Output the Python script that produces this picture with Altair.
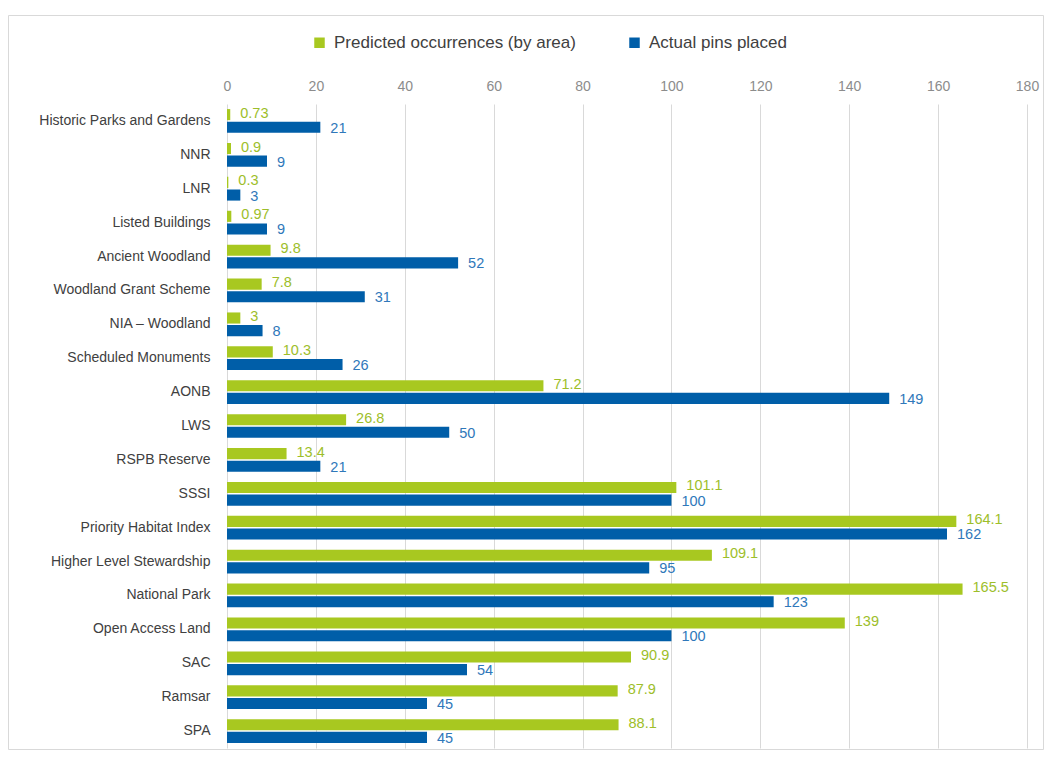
import altair as alt
import pandas as pd

categories = ["Historic Parks and Gardens", "NNR", "LNR", "Listed Buildings", "Ancient Woodland",
              "Woodland Grant Scheme", "NIA – Woodland", "Scheduled Monuments", "AONB", "LWS",
              "RSPB Reserve", "SSSI", "Priority Habitat Index", "Higher Level Stewardship",
              "National Park", "Open Access Land", "SAC", "Ramsar", "SPA"]
predicted = [0.73, 0.9, 0.3, 0.97, 9.8, 7.8, 3, 10.3, 71.2, 26.8, 13.4, 101.1, 164.1, 109.1,
             165.5, 139, 90.9, 87.9, 88.1]
predicted_labels = ["0.73", "0.9", "0.3", "0.97", "9.8", "7.8", "3", "10.3", "71.2", "26.8",
                    "13.4", "101.1", "164.1", "109.1", "165.5", "139", "90.9", "87.9", "88.1"]
actual = [21, 9, 3, 9, 52, 31, 8, 26, 149, 50, 21, 100, 162, 95, 123, 100, 54, 45, 45]
actual_labels = [str(v) for v in actual]
series = ["Predicted occurrences (by area)", "Actual pins placed"]
x_ticks = [0, 20, 40, 60, 80, 100, 120, 140, 160, 180]

rows = []
for c, p, pl, a, al in zip(categories, predicted, predicted_labels, actual, actual_labels):
    rows.append({"category": c, "series": series[0], "value": p, "label": pl})
    rows.append({"category": c, "series": series[1], "value": a, "label": al})
df = pd.DataFrame(rows)

bar_colors = ["#A8C820", "#005EA8"]
text_colors = ["#9DBE2A", "#2F78BA"]

y_enc = alt.Y("category:N", sort=categories, title=None,
              scale=alt.Scale(paddingInner=0.3, paddingOuter=0.15),
              axis=alt.Axis(ticks=False, domain=False, labelColor="#404040", labelFontSize=14,
                            labelFont="Liberation Sans", labelPadding=17, grid=False,
                            labelLimit=0))
yoff = alt.YOffset("series:N", sort=series, scale=alt.Scale(paddingInner=0.12))
x_enc = alt.X("value:Q", title=None,
              scale=alt.Scale(domain=[0, 180], nice=False),
              axis=alt.Axis(orient="top", values=x_ticks, ticks=False, domain=False,
                            labelColor="#8C8C8C", labelFontSize=14, labelFont="Liberation Sans",
                            labelPadding=11, labelFlush=False, grid=True,
                            gridColor="#D9D9D9", gridWidth=1))

base = alt.Chart(df)

bars = base.mark_bar().encode(
    y=y_enc, yOffset=yoff, x=x_enc,
    color=alt.Color("series:N", sort=series,
                    scale=alt.Scale(domain=series, range=bar_colors),
                    legend=alt.Legend(title=None, orient="none", direction="horizontal",
                                      legendX=84, legendY=-70, symbolType="square",
                                      symbolSize=110, symbolStrokeWidth=0,
                                      labelFontSize=17, labelColor="#404040",
                                      labelFont="Liberation Sans", columnPadding=50,
                                      labelOffset=6, labelLimit=0)),
)


def text_layer(idx, dy):
    return base.transform_filter(alt.datum.series == series[idx]).mark_text(
        align="left", baseline="middle", dx=10, dy=dy, fontSize=14.5,
        font="Liberation Sans", color=text_colors[idx]).encode(
        y=alt.Y("category:N", sort=categories), yOffset=yoff,
        x=alt.X("value:Q"),
        text="label:N",
    )


texts_pred = text_layer(0, -1)
texts_act = text_layer(1, 1.5)

border = alt.Chart(pd.DataFrame({"k": [0]})).mark_rect(
    fill=None, stroke="#D9D9D9", strokeWidth=1).encode(
    x=alt.value(-218.5), x2=alt.value(816.5), y=alt.value(-88.5), y2=alt.value(645.5))

chart = alt.layer(border, bars, texts_pred, texts_act).properties(
    width=800, height=644,
    padding={"left": 219, "top": 96, "right": 17, "bottom": 2},
    autosize=alt.AutoSizeParams(type="none"),
).configure_view(stroke=None)

chart.save("out.html", embed_options={"renderer": "svg", "actions": False})
